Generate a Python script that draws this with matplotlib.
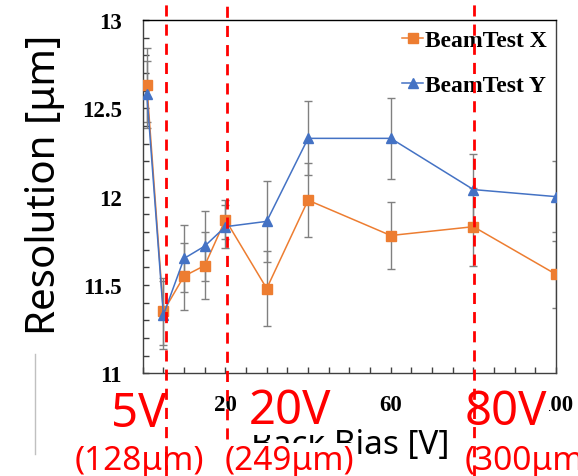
import matplotlib
matplotlib.use('Agg')
import matplotlib.pyplot as plt
from matplotlib.lines import Line2D
from matplotlib.ticker import MultipleLocator
from matplotlib.transforms import blended_transform_factory

# 数据：背偏压 vs 分辨率
bias = [1, 5, 10, 15, 20, 30, 40, 60, 80, 100]
res_x = [12.63, 11.35, 11.55, 11.61, 11.87, 11.48, 11.98, 11.78, 11.83, 11.56]
err_x = [0.21, 0.19, 0.19, 0.19, 0.11, 0.21, 0.21, 0.19, 0.22, 0.19]
res_y = [12.58, 11.33, 11.65, 11.72, 11.83, 11.86, 12.33, 12.33, 12.04, 12.00]
err_y = [0.19, 0.19, 0.19, 0.20, 0.12, 0.23, 0.21, 0.23, 0.20, 0.20]

# 标注
mark_v = [5.6, 20.4, 80.2]
mark_end = [0.0, 0.0776, 0.0]
mark_volt = ['5V', '20V', '80V']
mark_thick = ['(128μm)', '(249μm)', '(300μm)']

c_x = '#ED7D31'
c_y = '#4472C4'
serif = 'Liberation Serif'
sans = 'Noto Sans'

fig = plt.figure(figsize=(5.78, 4.77), dpi=100)
ax = fig.add_axes([0.2469, 0.2153, 0.7152, 0.7407])

ax.errorbar(bias, res_x, yerr=err_x, fmt='none', ecolor='#808080', elinewidth=1, capsize=3, zorder=2)
ax.errorbar(bias, res_y, yerr=err_y, fmt='none', ecolor='#808080', elinewidth=1, capsize=3, zorder=2)
ax.plot(bias, res_x, color=c_x, lw=1.1, marker='s', ms=7, label='BeamTest X', zorder=3)
ax.plot(bias, res_y, color=c_y, lw=1.1, marker='^', ms=7.5, label='BeamTest Y', zorder=4)

ax.set_xlim(0, 100)
ax.set_ylim(11, 13)
ax.xaxis.set_major_locator(MultipleLocator(20))
ax.xaxis.set_minor_locator(MultipleLocator(5))
ax.yaxis.set_major_locator(MultipleLocator(0.5))
ax.yaxis.set_minor_locator(MultipleLocator(0.1))
ax.tick_params(which='both', direction='in', length=4, width=1, color='#404040',
               top=False, right=False)
ax.tick_params(which='major', pad=15, labelsize=16.5)
ax.set_yticks([11, 11.5, 12, 12.5, 13])
ax.set_yticklabels(['11', '11.5', '12', '12.5', '13'])
for lab in ax.get_xticklabels() + ax.get_yticklabels():
    lab.set_fontfamily(serif)
    lab.set_fontweight('bold')
for s in ax.spines.values():
    s.set_color('#404040')
    s.set_linewidth(1)
ax.spines['top'].set_color('black')

leg = ax.legend(loc='upper right', frameon=False, borderpad=0, borderaxespad=0.4,
                handlelength=0.85, handletextpad=0.1, labelspacing=1.0,
                prop={'family': serif, 'weight': 'bold', 'size': 17})

fig.text(0.078, 0.612, 'Resolution [μm]', rotation=90, ha='center', va='center',
         fontsize=29, family=sans, fontweight='medium')
fig.text(0.6055, 0.0482, 'Back Bias [V]', ha='center', va='baseline', fontsize=24, family=sans)

# 红色标注文字
box = dict(facecolor='white', edgecolor='none', pad=1)
fig.text(0.2405, 0.1048, mark_volt[0], ha='center', va='baseline', fontsize=34, color='red', family=sans, bbox=box)
fig.text(0.5017, 0.1111, mark_volt[1], ha='center', va='baseline', fontsize=34, color='red', family=sans, bbox=box)
fig.text(0.8754, 0.1090, mark_volt[2], ha='center', va='baseline', fontsize=34, color='red', family=sans, bbox=box)
fig.text(0.2405, 0.0147, mark_thick[0], ha='center', va='baseline', fontsize=24, color='red', family=sans, bbox=box)
fig.text(0.5000, 0.0147, mark_thick[1], ha='center', va='baseline', fontsize=24, color='red', family=sans, bbox=box)
fig.text(0.8045, 0.0147, mark_thick[2], ha='left', va='baseline', fontsize=24, color='red', family=sans, bbox=box)

# 红色虚线
tr = blended_transform_factory(ax.transData, fig.transFigure)
for v, y0 in zip(mark_v, mark_end):
    ln = Line2D([v, v], [y0, 1.0], transform=tr, color='red', lw=2, zorder=10)
    ln.set_dashes((4, 2.9))
    fig.add_artist(ln)

fig.add_artist(Line2D([0.0606, 0.0606], [0.046, 0.256], color='#c0c0c0', lw=1))

fig.savefig('out.png', dpi=100)
